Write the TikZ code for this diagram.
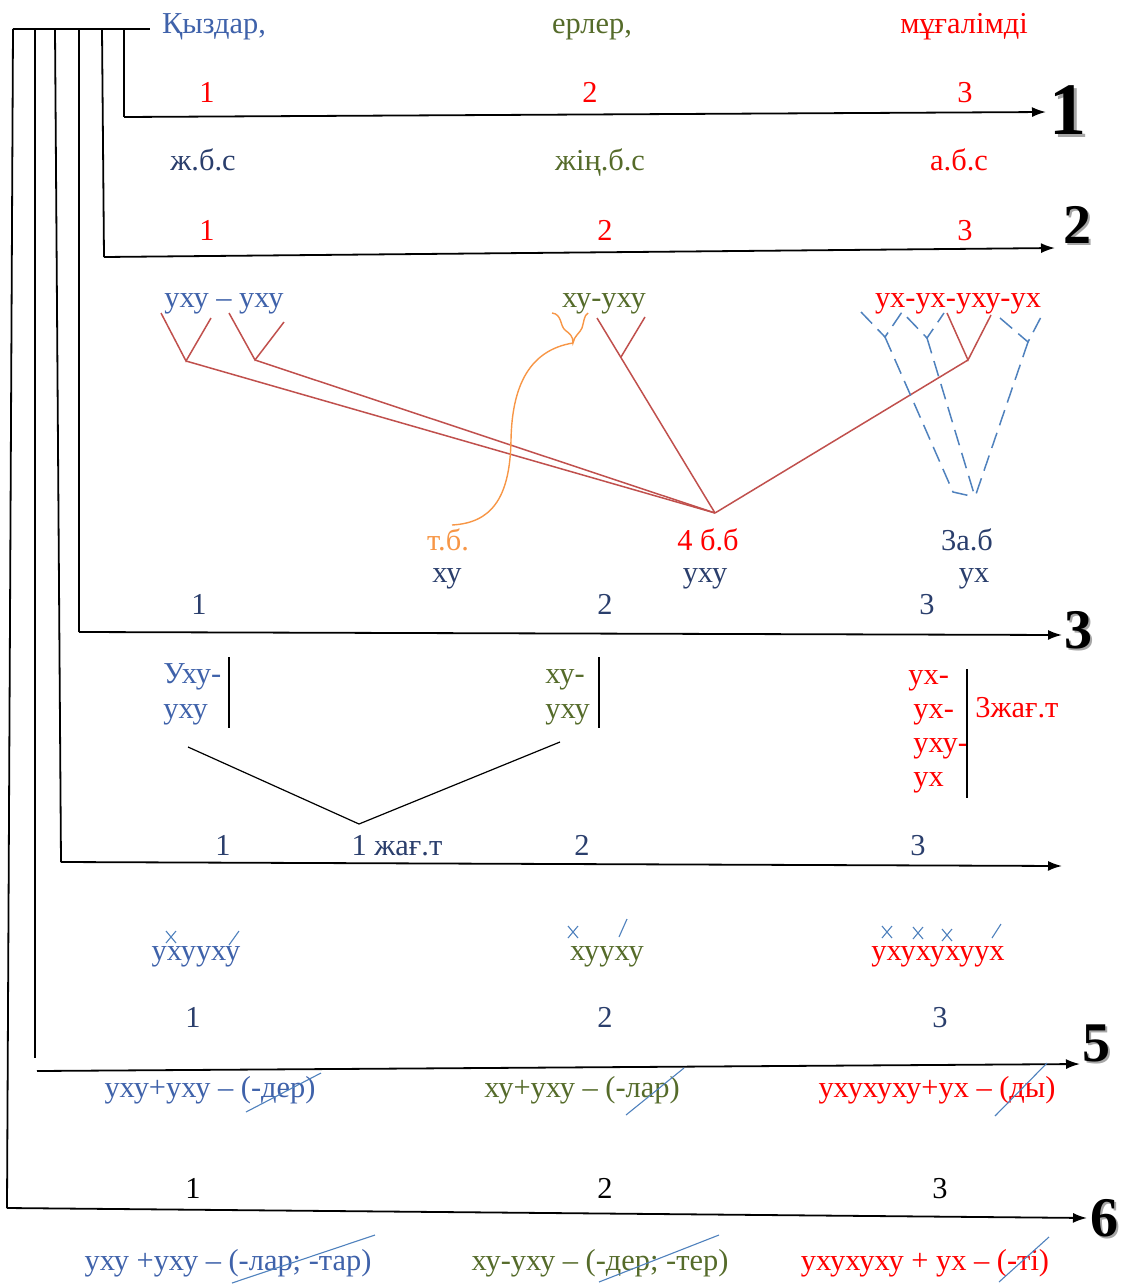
\documentclass[tikz,border=0pt]{standalone}
\usepackage{fontspec}
\setmainfont{Liberation Serif}
\usetikzlibrary{arrows.meta}
\definecolor{kblue}{HTML}{3F62AA}
\definecolor{knavy}{HTML}{2A3E6C}
\definecolor{kolive}{HTML}{556B2A}
\definecolor{kred}{HTML}{FF0000}
\definecolor{lred}{HTML}{C0504D}
\definecolor{korange}{HTML}{F79646}
\definecolor{ldash}{HTML}{4F81BD}

\begin{document}
\begin{tikzpicture}[
  x=0.5pt, y=-0.5pt,
  every node/.style={font=\fontsize{15.2}{18}\selectfont, inner sep=0pt, anchor=base},
  rowarrow/.style={line width=0.9pt, -{Latex[length=7pt, width=5pt]}},
  stem/.style={line width=0.9pt},
  link/.style={draw=lred, line width=0.75pt},
  guessline/.style={draw=ldash, line width=0.75pt, dash pattern=on 8pt off 4pt},
  sepbar/.style={line width=0.7pt},
  strike/.style={draw=ldash, line width=0.55pt},
  bignum/.style={font=\fontsize{28}{30}\selectfont\bfseries, anchor=center},
]
\useasboundingbox (0,0) rectangle (1125,1285);

\coordinate (t1) at (124,29); \coordinate (t2) at (102,29); \coordinate (t3) at (79,29);
\coordinate (t4) at (55,29); \coordinate (t5) at (35,29); \coordinate (t6) at (13,29);
\coordinate (head) at (150,29);
\coordinate (s1) at (124,117); \coordinate (e1) at (1046,112);
\coordinate (s2) at (104,257); \coordinate (e2) at (1055,248);
\coordinate (s3) at (79,632); \coordinate (e3) at (1062,635);
\coordinate (s4) at (61,862); \coordinate (e4) at (1062,866);
\coordinate (s5) at (37,1071); \coordinate (e5) at (1080,1064); \coordinate (f5) at (35,1058);
\coordinate (s6) at (7,1208); \coordinate (e6) at (1087,1218);

\draw[stem] (t6) -- (head);
\draw[stem] (t1) -- (s1);
\draw[stem] (t2) -- (s2);
\draw[stem] (t3) -- (s3);
\draw[stem] (t4) -- (s4);
\draw[stem] (t5) -- (f5);
\draw[stem] (t6) -- (s6);
\draw[rowarrow] (s1) -- (e1);
\draw[rowarrow] (s2) -- (e2);
\draw[rowarrow] (s3) -- (e3);
\draw[rowarrow] (s4) -- (e4);
\draw[rowarrow] (s5) -- (e5);
\draw[rowarrow] (s6) -- (e6);

\node[bignum, font=\fontsize{37}{40}\selectfont\bfseries, text=black!35] (n1s) at (1071,113) {1};
\node[bignum, font=\fontsize{37}{40}\selectfont\bfseries] (n1) at (1068,110) {1};
\node[bignum, text=black!35] (n2s) at (1079,227) {2};
\node[bignum] (n2) at (1077,225) {2};
\node[bignum, text=black!35] (n3s) at (1080,632) {3};
\node[bignum] (n3) at (1078,630) {3};
\node[bignum, text=black!35] (n5s) at (1098,1045) {5};
\node[bignum] (n5) at (1096,1043) {5};
\node[bignum, text=black!35] (n6s) at (1106,1220) {6};
\node[bignum] (n6) at (1104,1218) {6};

\node[text=kblue] (girls) at (214,33) {Қыздар,};
\node[text=kolive] (men) at (592,33) {ерлер,};
\node[text=kred] (teacher) at (964,33) {мұғалімді};
\node[text=kred] (a1) at (207,102) {1};
\node[text=kred] (a2) at (590,102) {2};
\node[text=kred] (a3) at (965,102) {3};

\node[text=knavy] (jbs) at (203,170) {ж.б.с};
\node[text=kolive] (jnbs) at (600,170) {жің.б.с};
\node[text=kred] (abs) at (959,170) {а.б.с};
\node[text=kred] (b1) at (207,240) {1};
\node[text=kred] (b2) at (605,240) {2};
\node[text=kred] (b3) at (965,240) {3};

\node[text=kblue] (sylA) at (224,307) {уху – уху};
\node[text=kolive] (sylB) at (604,307) {ху-уху};
\node[text=kred] (sylC) at (958,307) {ух-ух-уху-ух};

\coordinate (v1a) at (161,313); \coordinate (v1b) at (211,318); \coordinate (v1) at (186,361);
\coordinate (v2a) at (229,313); \coordinate (v2b) at (284,322); \coordinate (v2) at (255,360);
\coordinate (v3a) at (597,318); \coordinate (v3b) at (645,317); \coordinate (v3) at (621,357);
\coordinate (v4a) at (947,313); \coordinate (v4b) at (991,315); \coordinate (v4) at (968,360);
\coordinate (hub) at (715,513);
\draw[link] (v1a) -- (v1) -- (v1b);
\draw[link] (v2a) -- (v2) -- (v2b);
\draw[link] (v3b) -- (v3);
\draw[link] (v4a) -- (v4) -- (v4b);
\draw[link] (v1) -- (hub);
\draw[link] (v2) -- (hub);
\draw[link] (v3a) -- (hub);
\draw[link] (v4) -- (hub);

\coordinate (d1) at (861,312); \coordinate (d2) at (885,337); \coordinate (d3) at (902,312);
\coordinate (d4) at (927,338); \coordinate (d5) at (944,313);
\coordinate (d6) at (1000,318); \coordinate (d7) at (1028,342); \coordinate (d8) at (1041,317);
\coordinate (g1) at (953,492); \coordinate (g2) at (975,497);
\draw[guessline] (d1) -- (d2) -- (d3) -- (d4) -- (d5);
\draw[guessline] (d6) -- (d7) -- (d8);
\draw[guessline] (d2) -- (g1) -- (g2);
\draw[guessline] (d4) -- (g2);
\draw[guessline] (d7) -- (g2);

\node[text=korange] (tb) at (448,550) {т.б.};
\node[text=kred] (bb) at (708,550) {4 б.б};
\node[text=knavy] (ab) at (967,550) {3а.б};
\node[text=knavy] (tbw) at (447,582) {ху};
\node[text=knavy] (bbw) at (705,582) {уху};
\node[text=knavy] (abw) at (974,582) {ух};
\coordinate (tip) at (573,343);
\coordinate (tbtop) at (452,525);
\draw[korange, line width=0.7pt] (552,313) .. controls (562,314) and (560,326) .. (565,330)
  .. controls (570,334) and (573,336) .. (tip) .. controls (574,336) and (580,333) .. (582,328)
  .. controls (584,322) and (584,315) .. (588,313);
\draw[korange, line width=0.7pt] (tip) .. controls (530,350) and (512,385) .. (511,440)
  .. controls (510,500) and (490,523) .. (tbtop);

\node[text=knavy] (c1) at (199,614) {1};
\node[text=knavy] (c2) at (605,614) {2};
\node[text=knavy] (c3) at (927,614) {3};

\node[text=kblue, anchor=base west] (pA1) at (163,683) {Уху-};
\node[text=kblue, anchor=base west] (pA2) at (163,718) {уху};
\node[text=kolive, anchor=base west] (pB1) at (545,683) {ху-};
\node[text=kolive, anchor=base west] (pB2) at (545,718) {уху};
\node[text=kred, anchor=base west] (pC1) at (908,684) {ух-};
\node[text=kred, anchor=base west] (pC2) at (913,718) {ух-};
\node[text=kred, anchor=base west] (pC3) at (913,752) {уху-};
\node[text=kred, anchor=base west] (pC4) at (913,786) {ух};
\node[text=kred, anchor=base west] (jt3) at (975,717) {3жағ.т};
\coordinate (r1a) at (229,657); \coordinate (r1b) at (229,728);
\coordinate (r2a) at (599,657); \coordinate (r2b) at (599,728);
\coordinate (r3a) at (967,669); \coordinate (r3b) at (967,798);
\draw[sepbar] (r1a) -- (r1b);
\draw[sepbar] (r2a) -- (r2b);
\draw[sepbar] (r3a) -- (r3b);
\coordinate (j1) at (188,747); \coordinate (j2) at (359,824); \coordinate (j3) at (560,742);
\draw[line width=0.6pt] (j1) -- (j2) -- (j3);

\node[text=knavy] (m1) at (223,855) {1};
\node[text=knavy] (jt1) at (397,855) {1 жағ.т};
\node[text=knavy] (m2) at (582,855) {2};
\node[text=knavy] (m3) at (918,855) {3};

\node[text=kblue] (wA) at (196,960) {ухууху};
\node[text=kolive] (wB) at (607,960) {хууху};
\node[text=kred] (wC) at (938,960) {ухухухуух};
\foreach \p in {(171,937), (573,932), (887,932), (918,933), (947,935)}
  \draw[strike] \p +(-5,-6) -- +(5,6) +(-5,6) -- +(5,-6);
\draw[strike] (229,945) -- (239,931);
\draw[strike] (619,937) -- (627,919);
\draw[strike] (992,938) -- (1001,924);

\node[text=knavy] (k1) at (193,1027) {1};
\node[text=knavy] (k2) at (605,1027) {2};
\node[text=knavy] (k3) at (940,1027) {3};

\node[text=kblue] (fA) at (210,1097) {уху+уху – (-дер)};
\node[text=kolive] (fB) at (582,1097) {ху+уху – (-лар)};
\node[text=kred] (fC) at (937,1097) {ухухуху+ух – (ды)};
\draw[strike] (246,1112) -- (321,1073);
\draw[strike] (626,1115) -- (684,1068);
\draw[strike] (995,1116) -- (1047,1063);

\node (h1) at (193,1198) {1};
\node (h2) at (605,1198) {2};
\node (h3) at (940,1198) {3};

\node[text=kblue] (gA) at (228,1270) {уху +уху – (-лар; -тар)};
\node[text=kolive] (gB) at (600,1270) {ху-уху – (-дер; -тер)};
\node[text=kred] (gC) at (925,1270) {ухухуху + ух – (-ті)};
\draw[strike] (232,1283) -- (375,1235);
\draw[strike] (599,1282) -- (719,1235);
\draw[strike] (999,1282) -- (1049,1237);
\end{tikzpicture}
\end{document}
